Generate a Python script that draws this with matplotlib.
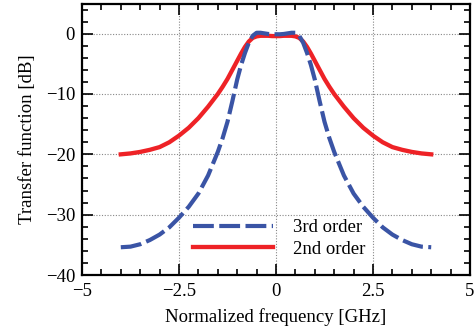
import matplotlib
matplotlib.use("Agg")
import matplotlib.pyplot as plt
from matplotlib.ticker import MultipleLocator

# Normalized frequency samples [GHz]
freq = [-4.0, -3.75, -3.5, -3.25, -3.0, -2.75, -2.5, -2.25, -2.0, -1.75, -1.5, -1.375, -1.25,
        -1.125, -1.0, -0.9, -0.8, -0.7, -0.6, -0.5, -0.4, -0.3, -0.2, -0.1, 0.0,
        0.1, 0.2, 0.3, 0.4, 0.5, 0.6, 0.7, 0.8, 0.9, 1.0, 1.125,
        1.25, 1.375, 1.5, 1.75, 2.0, 2.25, 2.5, 2.75, 3.0, 3.25, 3.5, 3.75, 4.0]

# 3rd order filter transfer function [dB]
third_order = [-35.4, -35.3, -34.9, -34.2, -33.3, -32.1, -30.5, -28.7, -26.5, -23.5, -19.6, -17.3, -14.6,
               -11.2, -7.6, -5.2, -3.2, -1.5, -0.35, 0.15, 0.15, 0.05, -0.05, -0.1, -0.1,
               -0.1, -0.05, 0.05, 0.15, 0.15, -0.35, -1.5, -3.2, -5.2, -7.6, -11.2,
               -14.6, -17.3, -19.6, -23.5, -26.5, -28.7, -30.5, -32.1, -33.3, -34.2, -34.9, -35.3, -35.4]

# 2nd order filter transfer function [dB]
second_order = [-20.0, -19.85, -19.6, -19.25, -18.8, -18.0, -16.9, -15.6, -14.0, -12.1, -10.0, -8.8, -7.5,
                -6.0, -4.5, -3.3, -2.2, -1.3, -0.7, -0.45, -0.35, -0.35, -0.35, -0.4, -0.4,
                -0.4, -0.35, -0.35, -0.35, -0.45, -0.7, -1.3, -2.2, -3.3, -4.5, -6.0,
                -7.5, -8.8, -10.0, -12.1, -14.0, -15.6, -16.9, -18.0, -18.8, -19.25, -19.6, -19.85, -20.0]

labels = ["3rd order", "2nd order"]
x_ticks = [-5, -2.5, 0, 2.5, 5]
x_ticklabels = ["\u22125", "\u22122.5", "0", "2.5", "5"]
y_ticks = [-40, -30, -20, -10, 0]
y_ticklabels = ["\u221240", "\u221230", "\u221220", "\u221210", "0"]

plt.rcParams['font.family'] = ['Liberation Serif', 'DejaVu Serif']
FS = 13.5
plt.rcParams['font.size'] = FS

fig = plt.figure(figsize=(4.76, 3.33), dpi=100)
ax = fig.add_axes([82/476, 1-275/333, 388/476, 271.5/333])

ax.plot(freq, third_order, color='#3A54A5', lw=3.0, dashes=(5.0, 1.3),
        label=labels[0], solid_capstyle='butt', dash_capstyle='butt', zorder=3)
ax.plot(freq, second_order, color='#EE2226', lw=3.1, label=labels[1], zorder=2,
        solid_joinstyle='round')

ax.set_xlim(-5, 5)
ax.set_ylim(-40, 5)
ax.set_xticks(x_ticks)
ax.set_xticklabels(x_ticklabels)
ax.set_yticks(y_ticks)
ax.set_yticklabels(y_ticklabels)
ax.xaxis.set_minor_locator(MultipleLocator(0.5))
ax.yaxis.set_minor_locator(MultipleLocator(2))
ax.tick_params(which='both', direction='in', top=True, right=True, width=1.2, colors='black')
ax.tick_params(which='major', length=8, labelsize=FS)
ax.tick_params(axis='x', which='major', pad=6)
ax.tick_params(axis='y', which='major', pad=5)
ax.tick_params(which='minor', length=4.5)
for s in ax.spines.values():
    s.set_linewidth(1.6)
ax.grid(True, which='major', color='#888888', linestyle=(0, (1, 1.5)), linewidth=0.8)
ax.set_axisbelow(True)

ax.set_xlabel("Normalized frequency [GHz]", fontsize=FS, labelpad=5.5)
ax.set_ylabel("Transfer function [dB]", fontsize=FS, labelpad=7)

leg = ax.legend(loc='center left', bbox_to_anchor=((193-82)/388, 1-(238.5-3.5)/271.5),
                frameon=False, handlelength=4.27, handletextpad=1.07, borderpad=0,
                borderaxespad=0, labelspacing=0.22, fontsize=FS)

fig.savefig("out.png", dpi=100)
